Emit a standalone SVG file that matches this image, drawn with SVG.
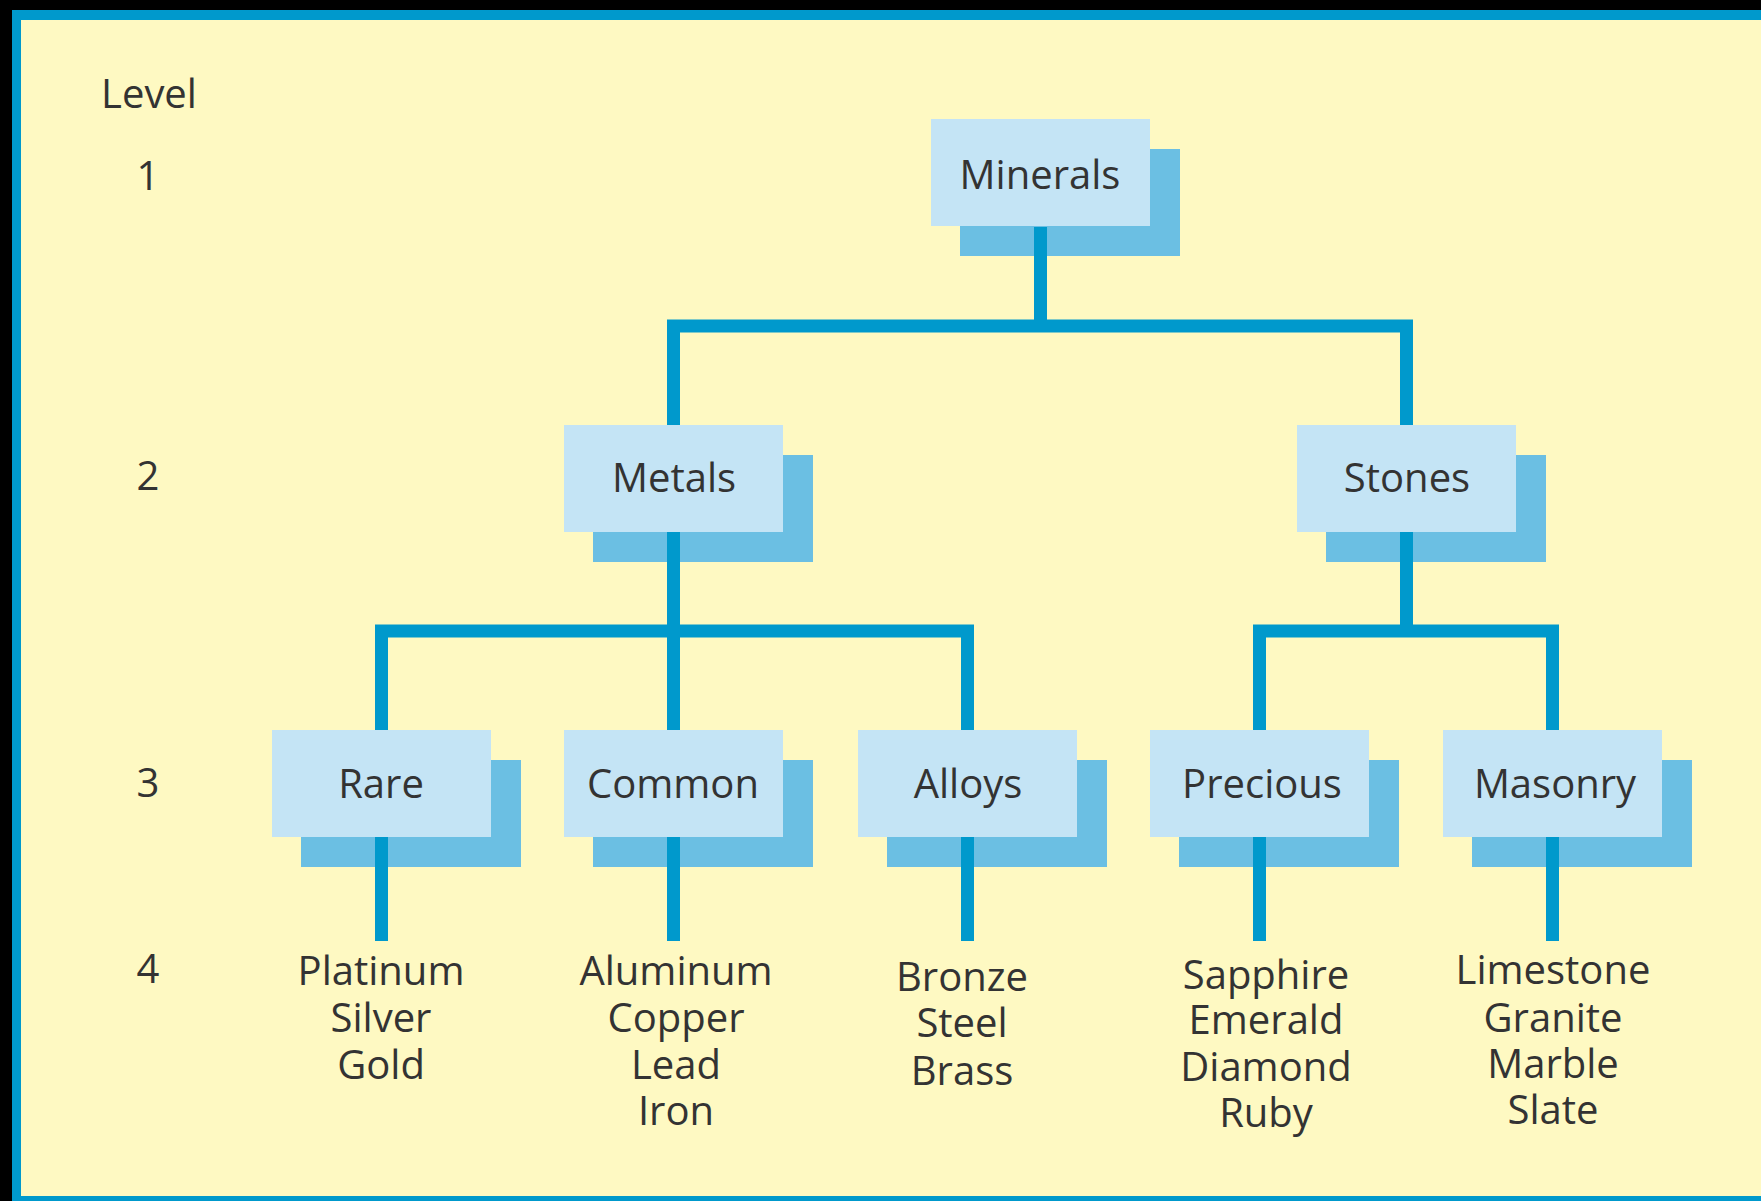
<svg xmlns="http://www.w3.org/2000/svg" width="1761" height="1201" viewBox="0 0 1761 1201">
<style>
.t{font-family:"Open Sans","Noto Sans","Liberation Sans",sans-serif;font-size:40px;fill:#333333;text-anchor:middle}
.lv{font-family:"Open Sans","Noto Sans","Liberation Sans",sans-serif;font-size:40px;fill:#333333;text-anchor:middle}
.sh{fill:#6BBFE3}
.bx{fill:#C4E4F5}
.c{fill:none;stroke:#0099CC;stroke-width:13;stroke-linejoin:miter;stroke-linecap:butt}
</style>
<defs>
<g id="box"><rect class="sh" x="29" y="30" width="220" height="107"/><rect class="bx" x="0" y="0" width="219" height="107"/></g>
</defs>
<rect x="0" y="0" width="1761" height="1201" fill="#000000"/>
<rect x="12" y="10" width="1749" height="1191" fill="#0099CC"/>
<rect x="21" y="20" width="1740" height="1176" fill="#FEF9C2"/>
<g id="levels">
<text class="lv" x="149" y="108">Level</text>
<text class="lv" x="148" y="190">1</text>
<text class="lv" x="148" y="490">2</text>
<text class="lv" x="148" y="797">3</text>
<text class="lv" x="148" y="983">4</text>
</g>
<g id="minerals"><use href="#box" x="931" y="119"/><text class="t" x="1040" y="189">Minerals</text></g>
<g id="metals"><use href="#box" x="564" y="425"/><text class="t" x="674" y="492">Metals</text></g>
<g id="stones"><use href="#box" x="1297" y="425"/><text class="t" x="1407" y="492">Stones</text></g>
<g id="rare"><use href="#box" x="272" y="730"/><text class="t" x="381" y="798">Rare</text></g>
<g id="common"><use href="#box" x="564" y="730"/><text class="t" x="673" y="798">Common</text></g>
<g id="alloys"><use href="#box" x="858" y="730"/><text class="t" x="968" y="798">Alloys</text></g>
<g id="precious"><use href="#box" x="1150" y="730"/><text class="t" x="1262" y="798">Precious</text></g>
<g id="masonry"><use href="#box" x="1443" y="730"/><text class="t" x="1555" y="798">Masonry</text></g>
<g id="connectors">
<path class="c" d="M1040.5,227 V326 M673.5,425 V326 H1406.5 V425"/>
<path class="c" d="M673.5,532 V730 M381.5,730 V631 H967.5 V730"/>
<path class="c" d="M1406.5,532 V631 M1259.5,730 V631 H1552.5 V730"/>
<path class="c" d="M381.5,837 V941 M673.5,837 V941 M967.5,837 V941 M1259.5,837 V941 M1552.5,837 V941"/>
</g>
<g id="rare-items"><text class="t" x="381" y="985">Platinum</text><text class="t" x="381" y="1032">Silver</text><text class="t" x="381" y="1079">Gold</text></g>
<g id="common-items"><text class="t" x="676" y="985">Aluminum</text><text class="t" x="676" y="1032">Copper</text><text class="t" x="676" y="1079">Lead</text><text class="t" x="676" y="1125">Iron</text></g>
<g id="alloys-items"><text class="t" x="962" y="991">Bronze</text><text class="t" x="962" y="1037">Steel</text><text class="t" x="962" y="1085">Brass</text></g>
<g id="precious-items"><text class="t" x="1266" y="989">Sapphire</text><text class="t" x="1266" y="1034">Emerald</text><text class="t" x="1266" y="1081">Diamond</text><text class="t" x="1266" y="1127">Ruby</text></g>
<g id="masonry-items"><text class="t" x="1553" y="984">Limestone</text><text class="t" x="1553" y="1032">Granite</text><text class="t" x="1553" y="1078">Marble</text><text class="t" x="1553" y="1124">Slate</text></g>
</svg>
